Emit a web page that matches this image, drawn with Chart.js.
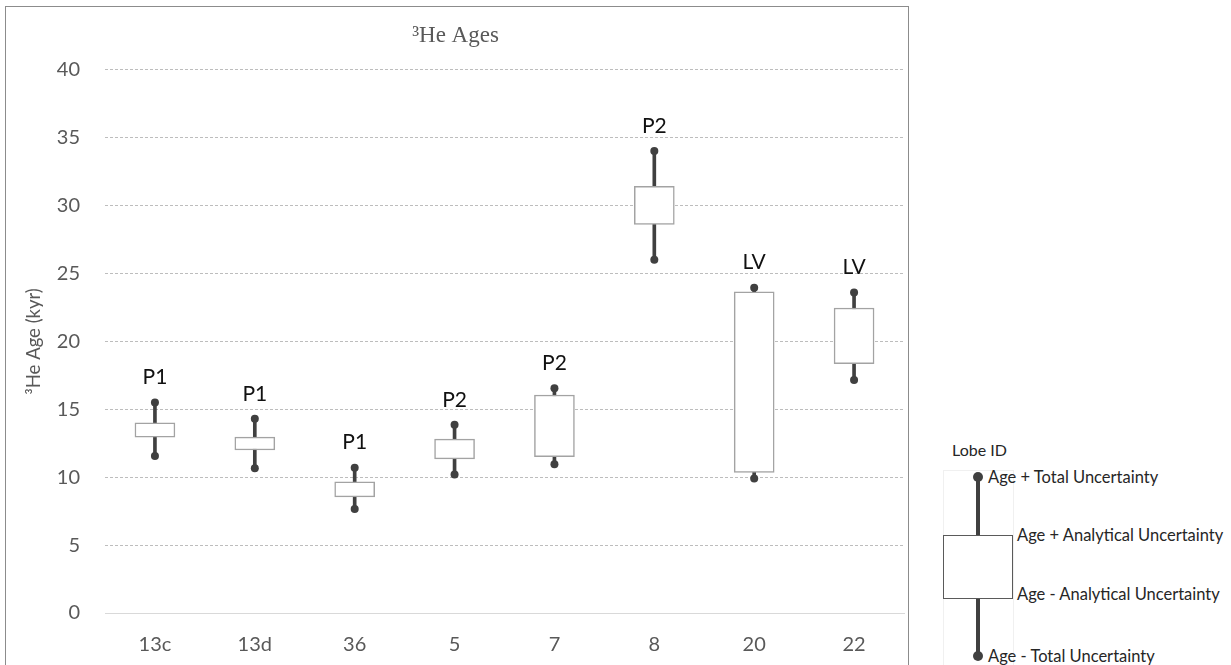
<!DOCTYPE html>
<html>
<head>
<meta charset="utf-8">
<script src="https://cdn.jsdelivr.net/npm/chart.js@4.4.0/dist/chart.umd.min.js"></script>
<style>
  body { margin: 0; background: #fff; width: 1231px; height: 665px; overflow: hidden; position: relative; font-family: Lato, sans-serif; }
  #frame { position: absolute; left: 5px; top: 6px; width: 902px; height: 700px; border: 1px solid #8c8c8c; }
  #chart { display: block; }
  .key { position: absolute; white-space: nowrap; color: #262626; font-size: 16.5px; line-height: 20px; }
  .keyShape { position: absolute; }
</style>
</head>
<body>
<div id="frame"><canvas id="chart" width="902" height="658"></canvas></div>

<!-- legend key, drawn outside the chart frame -->
<div class="key" style="left:952px; top:440px; font-size:16px;">Lobe ID</div>
<div class="keyShape" style="left:943px; top:470px; width:69px; height:210px; border:1px solid #f0f0f0;"></div>
<div class="keyShape" style="left:975.5px; top:477px; width:4px; height:179px; background:#404040;"></div>
<div class="keyShape" style="left:972.5px; top:472px; width:10px; height:10px; border-radius:50%; background:#404040;"></div>
<div class="keyShape" style="left:972.5px; top:651px; width:10px; height:10px; border-radius:50%; background:#404040;"></div>
<div class="keyShape" style="left:943px; top:535px; width:68px; height:62px; background:#fff; border:1px solid #5a5a5a;"></div>
<div class="key" style="left:988px; top:467px;">Age + Total Uncertainty</div>
<div class="key" style="left:1017px; top:525px;">Age + Analytical Uncertainty</div>
<div class="key" style="left:1017px; top:584px;">Age - Analytical Uncertainty</div>
<div class="key" style="left:988px; top:646px;">Age - Total Uncertainty</div>

<script>
const samples = ["13c", "13d", "36", "5", "7", "8", "20", "22"];
const lobeIds = ["P1", "P1", "P1", "P2", "P2", "P2", "LV", "LV"];
const totalHigh = [15.5, 14.3, 10.7, 13.85, 16.55, 34.0, 23.95, 23.6];
const analyticalHigh = [14.0, 12.95, 9.65, 12.8, 16.05, 31.4, 23.65, 22.45];
const analyticalLow = [12.95, 12.0, 8.55, 11.35, 11.5, 28.6, 10.35, 18.35];
const totalLow = [11.55, 10.65, 7.65, 10.2, 10.95, 26.0, 9.9, 17.15];
const yTicks = [0, 5, 10, 15, 20, 25, 30, 35, 40];

// lobe id written above each whisker
const lobeLabels = {
    id: "lobeLabels",
    afterDatasetsDraw(chart) {
        const { ctx, scales: { x, y } } = chart;
        ctx.save();
        ctx.font = "21px Lato";
        ctx.fillStyle = "#111";
        ctx.textAlign = "center";
        ctx.textBaseline = "middle";
        lobeIds.forEach((id, i) => {
            ctx.fillText(id, x.getPixelForValue(i), y.getPixelForValue(totalHigh[i]) - 25);
        });
        ctx.restore();
    }
};

new Chart(document.getElementById("chart"), {
    data: {
        labels: samples,
        datasets: [
            {
                type: "line",
                label: "Age + Total Uncertainty",
                data: totalHigh,
                showLine: false,
                pointRadius: 4,
                pointBackgroundColor: "#404040",
                pointBorderWidth: 0,
                order: 0
            },
            {
                type: "line",
                label: "Age - Total Uncertainty",
                data: totalLow,
                showLine: false,
                pointRadius: 4,
                pointBackgroundColor: "#404040",
                pointBorderWidth: 0,
                order: 0
            },
            {
                type: "bar",
                label: "Analytical Uncertainty",
                data: samples.map((s, i) => [analyticalLow[i], analyticalHigh[i]]),
                backgroundColor: "#fff",
                borderColor: "#a3a3a3",
                borderWidth: 1.5,
                borderSkipped: false,
                barThickness: 40,
                grouped: false,
                order: 1
            },
            {
                type: "bar",
                label: "Total Uncertainty",
                data: samples.map((s, i) => [totalLow[i], totalHigh[i]]),
                backgroundColor: "#404040",
                barThickness: 3,
                grouped: false,
                order: 2
            }
        ]
    },
    options: {
        responsive: false,
        animation: false,
        layout: { padding: { top: 0, right: 3, bottom: 0, left: 0 } },
        plugins: {
            legend: { display: false },
            tooltip: { enabled: false },
            title: {
                display: true,
                text: "³He Ages",
                color: "#595959",
                font: { family: "Liberation Serif", size: 23, weight: "normal" },
                padding: { top: 15, bottom: 20 }
            }
        },
        scales: {
            x: {
                grid: { display: false, drawTicks: false },
                border: { display: true, color: "#d9d9d9", width: 1 },
                ticks: { color: "#595959", font: { family: "Lato", size: 20 }, padding: 20 },
                afterFit(s) { s.height = 52; }
            },
            y: {
                min: 0,
                max: 40,
                afterBuildTicks(s) { s.ticks = yTicks.map(v => ({ value: v })); },
                ticks: { color: "#595959", font: { family: "Lato", size: 20 }, padding: 25 },
                grid: {
                    color: c => (c.tick && c.tick.value === 0) ? "rgba(0,0,0,0)" : "#bdbdbd",
                    drawTicks: false,
                    lineWidth: 1
                },
                border: { display: false, dash: [3, 2] },
                title: {
                    display: true,
                    text: "³He Age (kyr)",
                    color: "#595959",
                    font: { family: "Lato", size: 18.5 },
                    padding: { top: 17, bottom: 0 }
                },
                afterFit(s) { s.width = 99; }
            }
        }
    },
    plugins: [lobeLabels]
});
</script>
</body>
</html>
